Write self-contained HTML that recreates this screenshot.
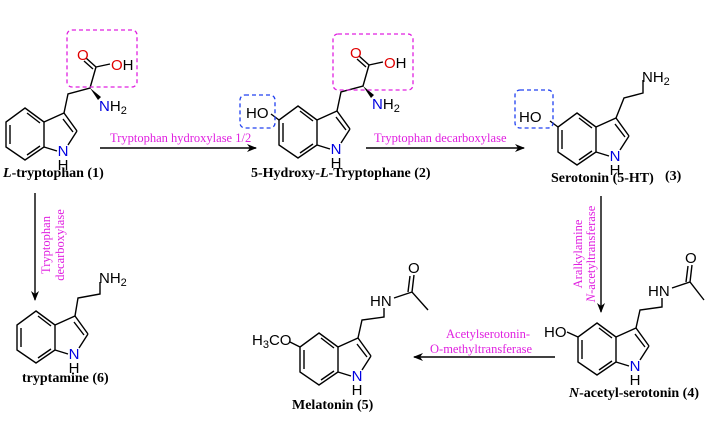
<!DOCTYPE html>
<html><head><meta charset="utf-8"><style>
html,body{margin:0;padding:0;background:#fff;}
svg{display:block;}
.a{font-family:"Liberation Sans",sans-serif;font-size:15px;}
.nm{font-family:"Liberation Serif",serif;font-size:14px;font-weight:bold;fill:#000;}
.en{font-family:"Liberation Serif",serif;font-size:12.5px;fill:#e020e0;}
</style></head><body>
<svg width="706" height="439" viewBox="0 0 706 439" xmlns="http://www.w3.org/2000/svg">
<defs>
<g id="ind" stroke="#000" stroke-width="1.4" fill="none">
<path d="M25,108 L44,122 L44,147 L25,160 L6,147 L6,122 Z"/>
<path d="M10,125 L10,144 M27,113 L40,123 M27,155 L40,146"/>
<path d="M44,122 L64,113 L77,131 M63,119 L73,132 M44,147 L57,151 M68,145 L77,131"/>
</g>
<marker id="ar" markerWidth="10" markerHeight="8" refX="9" refY="4" orient="auto" markerUnits="userSpaceOnUse">
<path d="M0,0 L10,4 L0,8 L3,4 Z" fill="#000"/>
</marker>
</defs>

<!-- Molecule 1 -->
<use href="#ind"/>
<text class="a" x="63" y="156" text-anchor="middle" fill="#0000e0">N</text>
<text class="a" x="63" y="170" text-anchor="middle">H</text>
<path d="M64,113 L68,94 L90,88 L96,67 M96,67 L86,58 M93,69 L84,61 M96,67 L110,64" stroke="#000" stroke-width="1.4" fill="none"/>
<path d="M90,88 L101,97 L98,100 Z" fill="#000"/>
<text class="a" x="77" y="60" fill="#e00000">O</text>
<text class="a" x="111" y="70" fill="#e00000">O<tspan fill="#000">H</tspan></text>
<text class="a" x="99" y="111" fill="#0000e0">N<tspan fill="#000">H<tspan font-size="11" dy="3">2</tspan></tspan></text>
<rect x="67" y="30" width="70" height="57" rx="5" fill="none" stroke="#e020e0" stroke-width="1.3" stroke-dasharray="4,3"/>
<text class="nm" x="3" y="177"><tspan font-style="italic">L</tspan>-tryptophan (1)</text>

<!-- Molecule 2 -->
<g transform="translate(273,-2)">
<use href="#ind"/>
<text class="a" x="63" y="156" text-anchor="middle" fill="#0000e0">N</text>
<text class="a" x="63" y="170" text-anchor="middle">H</text>
<path d="M64,113 L68,94 L90,88 L96,67 M96,67 L86,58 M93,69 L84,61 M96,67 L110,64 M6,122 L-2,116" stroke="#000" stroke-width="1.4" fill="none"/>
<path d="M90,88 L101,97 L98,100 Z" fill="#000"/>
<text class="a" x="77" y="60" fill="#e00000">O</text>
<text class="a" x="111" y="70" fill="#e00000">O<tspan fill="#000">H</tspan></text>
<text class="a" x="99" y="111" fill="#0000e0">N<tspan fill="#000">H<tspan font-size="11" dy="3">2</tspan></tspan></text>
<text class="a" x="-27" y="120">HO</text>
<rect x="-33" y="97" width="35" height="33" rx="5" fill="none" stroke="#2040f0" stroke-width="1.3" stroke-dasharray="4,3"/>
<rect x="60" y="36" width="80" height="56" rx="5" fill="none" stroke="#e020e0" stroke-width="1.3" stroke-dasharray="4,3"/>
</g>
<text class="nm" x="251" y="177">5-Hydroxy-<tspan font-style="italic">L</tspan>-Tryptophane (2)</text>

<!-- Molecule 3 -->
<g transform="translate(552,5)">
<use href="#ind"/>
<text class="a" x="63" y="156" text-anchor="middle" fill="#0000e0">N</text>
<text class="a" x="63" y="170" text-anchor="middle">H</text>
<path d="M64,113 L72,93 L91,88 L91,75 M6,122 L-2,116" stroke="#000" stroke-width="1.4" fill="none"/>
<text class="a" x="90" y="77">NH<tspan font-size="11" dy="3">2</tspan></text>
<text class="a" x="-33" y="117">HO</text>
<rect x="-37" y="85" width="38" height="38" rx="5" fill="none" stroke="#2040f0" stroke-width="1.3" stroke-dasharray="4,3"/>
</g>
<text class="nm" x="551" y="182">Serotonin (5-HT)</text>
<text class="nm" x="665" y="180">(3)</text>

<!-- Molecule 4 -->
<g transform="translate(572,215)">
<use href="#ind"/>
<text class="a" x="63" y="156" text-anchor="middle" fill="#0000e0">N</text>
<text class="a" x="63" y="170" text-anchor="middle">H</text>
<path d="M64,113 L68,95 L90,92 L90,83 M100,73 L118,67 L132,85 M118,67 L120,50 M114,67 L116,51 M6,122 L-5,117" stroke="#000" stroke-width="1.4" fill="none"/>
<text class="a" x="76" y="81">HN</text>
<text class="a" x="113" y="48">O</text>
<text class="a" x="-28" y="122">HO</text>
</g>
<text class="nm" x="569" y="397"><tspan font-style="italic">N</tspan>-acetyl-serotonin (4)</text>

<!-- Molecule 5 -->
<g transform="translate(294,225)">
<use href="#ind"/>
<text class="a" x="63" y="156" text-anchor="middle" fill="#0000e0">N</text>
<text class="a" x="63" y="170" text-anchor="middle">H</text>
<path d="M64,113 L68,95 L90,92 L90,83 M100,73 L118,67 L134,85 M118,67 L120,50 M114,67 L116,51 M6,122 L-4,117" stroke="#000" stroke-width="1.4" fill="none"/>
<text class="a" x="76" y="81">HN</text>
<text class="a" x="114" y="48">O</text>
<text class="a" x="-42" y="120">H<tspan font-size="11" dy="3">3</tspan><tspan dy="-3">CO</tspan></text>
</g>
<text class="nm" x="292" y="409">Melatonin (5)</text>

<!-- Molecule 6 -->
<g transform="translate(11,203)">
<use href="#ind"/>
<text class="a" x="63" y="156" text-anchor="middle" fill="#0000e0">N</text>
<text class="a" x="63" y="170" text-anchor="middle">H</text>
<path d="M64,113 L67,95 L89,91 L89,79" stroke="#000" stroke-width="1.4" fill="none"/>
<text class="a" x="88" y="80">NH<tspan font-size="11" dy="3">2</tspan></text>
</g>
<text class="nm" x="22" y="382">tryptamine (6)</text>

<!-- Arrows -->
<g stroke="#000" stroke-width="1.4">
<line x1="100" y1="148" x2="256" y2="148" marker-end="url(#ar)"/>
<line x1="366" y1="148" x2="524" y2="148" marker-end="url(#ar)"/>
<line x1="601" y1="196" x2="601" y2="312" marker-end="url(#ar)"/>
<line x1="555" y1="357" x2="414" y2="357" marker-end="url(#ar)"/>
<line x1="35" y1="193" x2="35" y2="300" marker-end="url(#ar)"/>
</g>
<text class="en" x="110" y="142">Tryptophan hydroxylase 1/2</text>
<text class="en" x="374" y="142">Tryptophan decarboxylase</text>
<text class="en" x="446" y="338">Acetylserotonin-</text>
<text class="en" x="430" y="353">O-methyltransferase</text>
<g transform="translate(582,254) rotate(-90)">
<text class="en" x="0" y="0" text-anchor="middle">Aralkylamine</text>
<text class="en" x="0" y="13" text-anchor="middle"><tspan font-style="italic">N</tspan>-acetyltransferase</text>
</g>
<g transform="translate(50,245) rotate(-90)">
<text class="en" x="0" y="0" text-anchor="middle">Tryptophan</text>
<text class="en" x="0" y="14" text-anchor="middle">decarboxylase</text>
</g>
</svg>
</body></html>
